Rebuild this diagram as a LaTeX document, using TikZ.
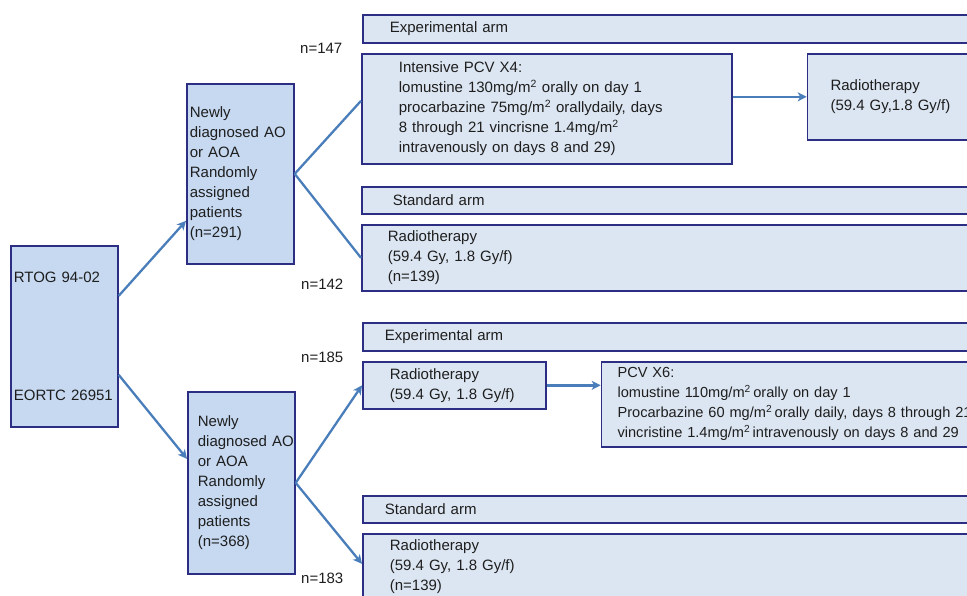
\documentclass[tikz,border=0pt]{standalone}
\usepackage{fontspec}
\setmainfont{Liberation Sans}
\usepackage{tikz}
\usetikzlibrary{arrows.meta,positioning}
\definecolor{popfill}{HTML}{C6D9F1}
\definecolor{armfill}{HTML}{DCE6F2}
\definecolor{boxline}{HTML}{2B2E83}
\definecolor{flowblue}{HTML}{4A7EBB}
\definecolor{inktext}{HTML}{1E1E1E}
\newcommand{\armfont}{\fontsize{15pt}{20pt}\selectfont}
\tikzset{>={Stealth[length=9pt,width=9pt,inset=2.5pt]}}
\tikzset{trial box/.style={draw=boxline,fill=popfill,line width=1.7pt,anchor=north west,
             align=left,inner ysep=0pt,text=inktext,font=\armfont},
         arm box/.style={trial box,fill=armfill},
         flow/.style={draw=flowblue,line width=2.3pt},
         n label/.style={anchor=west,inner sep=0pt,text=inktext,font=\armfont},
            }
\begin{document}
\begin{tikzpicture}[x=1pt,y=-1pt]
    \useasboundingbox (0,0) rectangle (967,596);
    \clip (0,0) rectangle (967,596);

    % trials and randomised populations
    \node[trial box,inner xsep=3pt,text width=101pt,minimum height=181pt] (trials) at (10,245)
        {RTOG 94-02\\[98pt]EORTC 26951};
    \node[trial box,inner xsep=3pt,text width=101pt,minimum height=180pt] (pop1) at (186,83)
        {Newly\\diagnosed AO\\or AOA\\Randomly\\assigned\\patients\\(n=291)};
    \node[trial box,inner xsep=10pt,text width=87pt,minimum height=182pt] (pop2) at (187,391)
        {Newly\\\mbox{diagnosed AO}\\or AOA\\Randomly\\assigned\\patients\\(n=368)};

    % RTOG 94-02 arms
    \node[arm box,inner xsep=27pt,text width=586pt,minimum height=28pt] (exp1) at (362,14) {Experimental arm};
    \node[arm box,inner xsep=37pt,text width=296pt,minimum height=110pt] (pcv4) at (361,53)
        {Intensive PCV X4:\\lomustine 130mg/m\textsuperscript{2} orally on day 1\\
         procarbazine 75mg/m\textsuperscript{2} orallydaily, days\\
         8 through 21 vincrisne 1.4mg/m\textsuperscript{2}\\intravenously on days 8 and 29)};
    \node[arm box,inner xsep=23pt,text width=154pt,minimum height=86pt] (rt1) [right=74pt of pcv4.north east,anchor=north west]
        {Radiotherapy\\(59.4 Gy,1.8 Gy/f)};
    \node[arm box,inner xsep=31pt,text width=578pt,minimum height=27pt] (std1) at (361,186) {Standard arm};
    \node[arm box,inner xsep=26pt,text width=588pt,minimum height=66pt] (rt2) at (361,224)
        {Radiotherapy\\(59.4 Gy, 1.8 Gy/f)\\(n=139)};

    % EORTC 26951 arms
    \node[arm box,inner xsep=22pt,text width=596pt,minimum height=28pt] (exp2) at (362,322) {Experimental arm};
    \node[arm box,inner xsep=27pt,text width=129pt,minimum height=47pt] (rt3) at (362,361)
        {Radiotherapy\\(59.4 Gy, 1.8 Gy/f)};
    \node[arm box,inner xsep=16pt,text width=388pt,minimum height=85pt,font=\fontsize{14.6pt}{20pt}\selectfont] (pcv6)
        [right=54pt of rt3.north east,anchor=north west]
        {PCV X6:\\lomustine 110mg/m\textsuperscript{2}\,orally on day 1\\
         Procarbazine 60 mg/m\textsuperscript{2}\,orally daily, days 8 through 21\\
         vincristine 1.4mg/m\textsuperscript{2}\,intravenously on days 8 and 29};
    \node[arm box,inner xsep=22pt,text width=596pt,minimum height=27pt] (std2) at (362,495) {Standard arm};
    \node[arm box,inner xsep=27pt,text width=586pt,minimum height=66pt] (rt4) at (362,533)
        {Radiotherapy\\(59.4 Gy, 1.8 Gy/f)\\(n=139)};

    % patient numbers
    \node[n label] (n147) at (300,48) {n=147};
    \node[n label] (n142) at (301,284) {n=142};
    \node[n label] (n185) at (301,357) {n=185};
    \node[n label] (n183) at (301,578) {n=183};

    % connectors
    \draw[flow,->] ([yshift=40.5pt]trials.east) -- ([yshift=-47pt]pop1.west);
    \draw[flow,->] ([yshift=-38.5pt]trials.east) -- ([yshift=24pt]pop2.west);
    \draw[flow] (pop1.east) -- ([yshift=8pt]pcv4.west);
    \draw[flow] (pop1.east) -- (rt2.west);
    \draw[flow,->] (rt1.west -| pcv4.east) -- (rt1.west);
    \draw[flow,->] (pop2.east) -- (rt3.west);
    \draw[flow,->] (pop2.east) -- ([yshift=3pt]rt4.west);
    \draw[flow,->] (rt3.east) -- (rt3.east -| pcv6.west);

\end{tikzpicture}
\end{document}
